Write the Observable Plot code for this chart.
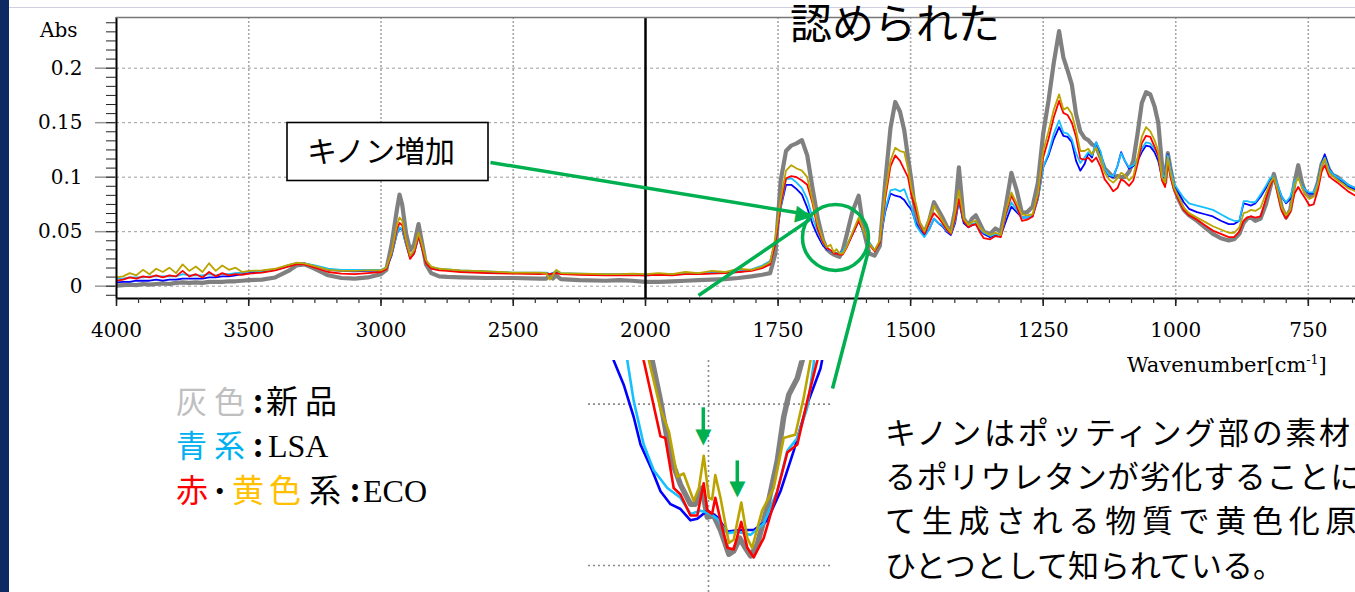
<!DOCTYPE html>
<html><head><meta charset="utf-8">
<script src="https://cdn.jsdelivr.net/npm/d3@7"></script>
<script src="https://cdn.jsdelivr.net/npm/@observablehq/plot@0.6"></script>
<style>
html,body{margin:0;padding:0;background:#fff;}
body{width:1355px;height:592px;overflow:hidden;position:relative;}
.layer{position:absolute;left:0;top:0;}
#strip{position:absolute;left:0;top:0;width:9px;height:592px;background:#0d2a62;}
#topline{position:absolute;left:9px;width:1346px;top:7px;height:1px;background:#cfd0e2;}
</style></head><body>
<div id="topline"></div>
<div id="chart" class="layer"></div>
<div id="inset" style="position:absolute;left:588px;top:360px;"></div>
<svg id="overlay" class="layer" width="1355" height="592" style="pointer-events:none"></svg>
<div id="strip"></div>
<script>
// ---------------- data (Abs values stored in milli-Abs) ----------------
const wavenumber = [
 4000,3975,3950,3925,3900,3875,3850,3825,3800,3775,3750,3725,3700,3675,3650,3625,3600,3575,3550,3525,
 3500,3450,3400,3350,3320,3290,3250,3200,3150,3100,3050,3000,
 2980,2960,2940,2930,2920,2905,2890,2875,2858,2845,2830,2810,2780,2750,2700,2600,2500,2400,
 2375,2362,2350,2338,2320,2250,2150,2100,2050,2000,
 1975,1950,1925,1900,1875,1850,1825,1800,1780,1765,
 1755,1745,1735,1725,1715,1705,1695,1685,1675,1665,
 1658,1651,1645,1640,1634,1628,1620,1610,1598,1588,
 1578,1568,1558,1548,1538,1529,1520,1512,1505,1498,
 1490,1482,1474,1465,1456,1448,1440,1432,1424,1416,
 1409,1400,1391,1384,1377,1370,1362,1350,1340,1330,
 1320,1310,1300,1290,1280,1270,1260,1250,1240,1230,
 1220,1212,1204,1196,1188,1180,1172,1165,1158,1150,
 1142,1134,1126,1118,1110,1103,1096,1088,1080,1072,
 1064,1056,1048,1040,1033,1026,1020,1015,1010,1003,
 995,985,975,960,945,930,915,900,890,880,
 872,865,858,850,840,830,822,815,808,800,
 792,784,776,769,762,755,748,740,732,725,
 719,711,704,695,685,675,661
];
const grayNew = [
 0.5,1,1.5,1,2,1.5,2,2.5,2,3,3.5,3,3.5,3,4,4,4,4.5,4.5,5,
 5.5,6,8,14,19,20,16,10,7.5,7,8,11,
 15,38,70,84,75,48,33,38,57,40,20,12,9,8.5,8,7.5,7.5,7,
 7,10,7,10,6.5,5.5,5,5.5,5,4,
 4,4.5,5,5.5,6,6.5,7.5,9,10.5,12,
 30,97,124,129,131,134,120,90,62,42,
 34,31,29,28,27,33,48,68,83,50,
 30,28,37,95,145,169,160,143,118,95,
 62,56,49,60,77,70,63,55,50,70,
 109,62,56,62,65,58,50,48,53,50,
 75,104,88,67,68,73,95,140,170,205,
 234,210,198,185,158,142,136,134,130,128,
 118,108,104,100,101,100,100,105,115,140,
 168,178,176,165,150,112,95,122,108,91,
 80,70,65,60,54,48,44,42,43,48,
 58,62,63,60,62,75,90,103,90,72,
 63,70,95,111,95,85,82,84,95,112,
 118,107,102,100,96,92,89
];
const blueLSA = [
 3.5,4,4,5,5,5,6,5,6,6,7,7,7,7,8,8,9,9,10,11,
 12,13,15,19,21,21,18.5,15,14,13.5,14,14,
 16,28,48,53,52,38,26,30,45,35,22,17,15.5,15,14,13,12,12,
 12,11,12,13,11.5,11,10.5,10.5,10.5,10,
 10.5,11,11,11.5,12,12.5,13,15,18,22,
 40,72,93,93,89,84,72,57,46,37,
 34,32,31,30,30,32,37,47,60,49,
 40,33,40,68,85,83,82,79,74,70,
 58,51,47,52,62,58,55,50,47,58,
 78,58,54,56,57,52,48,45,47,46,
 60,73,68,63,63,64,80,109,120,135,
 146,138,137,132,115,106,112,122,118,132,
 122,108,101,100,110,123,115,108,110,115,
 123,129,128,123,115,100,100,121,108,93,
 86,77,71,68,66,64,60,57,57,60,
 76,75,74,76,82,90,98,100,92,82,
 76,80,95,100,92,88,85,85,95,112,
 121,108,103,100,96,92,89
];
const cyanLSA = [
 7,7,8,8,8,9,9,9,9,9,11,10,10,10,11,10,11,11,12,12.5,
 13.5,14,15.5,19,21,21,19,16,15,15,15,15,
 17,29,48,54,52,38,27,31,45,35,22,17.5,16,15.5,14.5,13.5,12.5,12.5,
 12.5,11,12,14,12,11.5,11,11,11,10.5,
 11,11,11.5,12,12,13,13.5,15.5,19,23,
 42,72,98,99,95,90,80,63,50,39,
 35,32,31,30,30,32,38,48,62,48,
 40,33,40,70,88,89,87,89,80,72,
 56,50,45,52,62,58,56,51,48,60,
 80,60,55,57,58,53,49,46,48,46,
 65,77,70,63,63,65,80,109,122,140,
 152,141,140,135,122,113,118,123,120,132,
 124,108,102,101,110,122,115,109,111,117,
 126,132,131,126,120,102,100,120,108,94,
 88,81,76,74,72,70,66,62,60,60,
 78,78,77,77,84,92,99,101,93,82,
 77,82,96,100,92,88,86,86,95,112,
 118,107,103,100,97,93,90
];
const redECO = [
 5,6,8,7,9,8,10,8,10,9,14,9,11,8,13,9,12,10,11,10.5,
 11.5,12.5,14.5,18,20,20,17,13,11.5,11,12,13,
 15.5,30,52,58,56,40,25,30,46,35,21,16,14.5,14,13,12,11.5,11,
 11.5,11,11.5,12,11,10.5,10,10,10,10,
 10.5,10,11,11,11.5,12,13,14,16.5,20,
 40,75,99,101,100,97,93,76,52,40,
 35,33,30,30,29,29,36,47,60,50,
 38,32,40,80,110,120,115,107,100,82,
 70,56,48,58,67,63,58,52,48,62,
 80,60,54,56,57,50,44,43,46,45,
 67,83,73,60,61,64,82,118,135,155,
 170,159,157,150,137,117,116,118,114,118,
 110,98,93,87,90,98,96,92,97,112,
 131,138,137,128,120,97,91,115,100,88,
 80,70,65,61,56,51,48,45,45,50,
 60,63,64,63,64,80,92,100,85,69,
 62,68,85,91,85,80,74,75,88,105,
 111,101,98,95,91,87,83
];
const yellowECO = [
 8,9,12,10,15,11,16,13,17,12,20,14,18,13,21,14,19,15,17,13,
 14,14.5,16,19.5,21.5,21,18.5,15,14,14,14.5,14.5,
 17,31,56,63,60,42,28,33,49,38,24,18,16,15.5,14.5,13.5,12.5,12.5,
 12,6,10,15,12,11.5,11,11,11.5,11,
 12,11,13,12,14,13,16,15,18,22,
 45,80,106,111,108,106,100,78,56,42,
 36,38,31,34,30,30,37,49,63,50,
 39,33,42,85,115,127,124,123,108,88,
 76,58,50,62,74,67,60,54,49,68,
 88,62,56,59,60,54,50,47,49,47,
 70,86,76,66,65,66,85,124,142,162,
 176,162,164,158,143,124,124,126,121,127,
 118,104,98,95,99,104,102,97,101,118,
 137,146,142,134,124,100,95,118,104,90,
 82,72,67,63,59,55,52,49,49,54,
 67,68,70,69,72,85,95,100,88,72,
 65,70,92,100,90,84,80,82,93,110,
 117,104,101,97,94,90,87
];
// zoomed inset (1680–1620 cm-1), [wavenumber, mAbs]
const insetGray = [[1665.5,39.5],[1664.1,37.7],[1662,35.2],[1659.5,31.7],[1657,30.0],[1654.5,28.8],[1653.3,28.8],[1651.6,29.8],[1650.3,28.0],[1648.7,28.1],[1647,27.2],[1644.9,25.7],[1643.7,25.9],[1642.2,26.7],[1640.8,26.1],[1639.5,25.6],[1637.8,26.3],[1635.3,28.6],[1632.8,31.5],[1631.2,34.2],[1629.9,35.6],[1627.8,36.6],[1626.6,37.7],[1625.5,39.5]];
const insetYellow = [[1665.5,39.5],[1664.9,37.7],[1662,34.7],[1659.9,33.3],[1657.8,30.5],[1656.2,30.7],[1653.7,29.0],[1652.4,29.8],[1651.2,31.8],[1649.9,29.2],[1649.1,29.1],[1648.3,30.6],[1647,29.2],[1644.9,26.4],[1643.7,26.6],[1641.8,28.9],[1640.3,26.7],[1639.1,26.1],[1636.6,28.4],[1633.7,29.8],[1631.2,32.9],[1629.9,33.0],[1628.3,33.1],[1626.2,35.4],[1624.5,37.7],[1623.5,39.5]];
const insetRed = [[1667,39.5],[1666.2,37.7],[1664.5,35.8],[1662,33.0],[1660.8,32.9],[1658.7,29.8],[1657,29.4],[1654.5,28.1],[1652.8,28.1],[1651.2,30.1],[1650.3,28.4],[1649.1,28.2],[1648.3,29.2],[1647,27.8],[1645.3,26.1],[1643.7,26.0],[1641.8,27.7],[1640.3,26.1],[1638.7,25.5],[1636.2,26.7],[1632.8,29.6],[1630.3,32.0],[1627.8,32.5],[1625.3,35.2],[1622.8,37.7],[1622,39.5]];
const insetCyan = [[1671,39.5],[1670.3,37.7],[1668.7,35.2],[1666.2,32.5],[1663.7,30.9],[1660.3,29.8],[1657,29.2],[1654.5,28.2],[1652,28.4],[1649.5,28.2],[1647.8,27.9],[1645.3,27.0],[1642.8,27.1],[1639.5,26.9],[1636.2,27.6],[1632.8,29.6],[1630.3,32.1],[1627.8,32.9],[1625.3,34.8],[1623.7,37.5],[1623.2,39.5]];
const insetBlue = [[1674.5,39.5],[1673.7,37.7],[1671.2,36.2],[1668.7,34.2],[1667,32.5],[1664.1,30.9],[1662,29.6],[1659.5,28.8],[1657,28.5],[1654.5,27.8],[1652.8,27.9],[1650.3,28.4],[1647.8,28.0],[1645.3,27.1],[1642,27.2],[1638.7,27.2],[1635.3,27.8],[1632,29.6],[1628.7,32.1],[1625.3,35.0],[1622,37.2],[1621,38.5]];

// axis ticks
const xTickValues = [4000,3500,3000,2500,2000,1750,1500,1250,1000,750];
const xGridValues = [3500,3000,2500,1750,1500,1250,1000,750];
const yTickValues = [0,50,100,150,200];
// annotations in data coordinates
const calloutLinks = [
  {x1:2586,y1:113.5,x2:1690,y2:65.5},
  {x1:1900,y1:-8.5,x2:1689,y2:61.5},
  {x1:1579.4,y1:32.8,x2:1647.3,y2:-93.9}
];
const calloutHead = [{x:1700.9,y:66.0,angle:9.4}];
const calloutCircle = [{x:1641.7,y:44.7}];
const insetArrowShafts = [{x:1651.3,y1:34.77,y2:33.3},{x:1642.8,y1:31.48,y2:30.0}];
const insetArrowHeads = [{x:1651.3,y:33.0},{x:1642.8,y:29.78}];

// ---------------- build ----------------
const series = [
  {key:"新品", values:grayNew, inset:insetGray, color:"#808080", w:4.2, wi:5.5},
  {key:"LSA青", values:blueLSA, inset:insetBlue, color:"#0000ff", w:1.8, wi:2.6},
  {key:"LSA水", values:cyanLSA, inset:insetCyan, color:"#14c0ff", w:1.8, wi:2.6},
  {key:"ECO赤", values:redECO, inset:insetRed, color:"#ff0000", w:1.8, wi:2.6},
  {key:"ECO黄", values:yellowECO, inset:insetYellow, color:"#bca400", w:1.8, wi:2.6}
];
for (const s of series) if (s.values.length !== wavenumber.length) throw new Error(s.key + " length " + s.values.length + " vs " + wavenumber.length);

const GREEN = "#00b050";
const X_DOMAIN = [4000, 2000, 661];
const X_RANGE = [116, 645, 1355];
const Y_DOMAIN = [-11.3, 246.5];
const yMinor = d3.range(-1, 30).map(k => k * 50 / 6);
const xMinor = d3.range(0, 25).map(k => 4000 - k * 500 / 6).concat(d3.range(1, 33).map(k => 2000 - k * 250 / 6));

const lineMarks = series.map(s => Plot.line(
  wavenumber.map((w, i) => ({wn: w, abs: s.values[i]})),
  {x: "wn", y: "abs", stroke: s.color, strokeWidth: s.w, strokeLinejoin: "round", clip: true}
));

const chart = Plot.plot({
  width: 1355, height: 592,
  marginLeft: 116, marginRight: 0, marginTop: 17, marginBottom: 294,
  x: {type: "linear", domain: X_DOMAIN, range: X_RANGE},
  y: {domain: Y_DOMAIN},
  style: {fontFamily: "'DejaVu Serif', serif", fontSize: "20px", color: "black", background: "transparent", overflow: "visible"},
  marks: [
    Plot.ruleY(yTickValues, {stroke: "#9c9c9c", strokeDasharray: "3,3", strokeWidth: 1}),
    Plot.ruleX(xGridValues, {stroke: "#a8a8a8", strokeDasharray: "2,2", strokeWidth: 1.6}),
    ...lineMarks,
    Plot.ruleX([2000], {stroke: "#000", strokeWidth: 2.5}),
    Plot.ruleX([X_DOMAIN[0]], {stroke: "#000", strokeWidth: 2}),
    Plot.ruleY([Y_DOMAIN[1]], {stroke: "#777", strokeWidth: 1.5}),
    Plot.ruleY([Y_DOMAIN[0]], {stroke: "#000", strokeWidth: 2}),
    Plot.axisY({ticks: yTickValues, tickSize: 21, tickPadding: 13, tickFormat: d => String(d / 1000), stroke: "#999", strokeWidth: 1.5, label: null}),
    Plot.axisY({ticks: yMinor, tickSize: 10, tickFormat: () => "", stroke: "#222", strokeWidth: 1, label: null}),
    Plot.axisX({ticks: xMinor, tickSize: 5, tickFormat: () => "", stroke: "#333", strokeWidth: 1.2, label: null}),
    Plot.axisX({ticks: xTickValues, tickSize: 8, tickPadding: 16, tickFormat: d => String(d), stroke: "#222", strokeWidth: 1.6, label: null}),
    Plot.link(calloutLinks, {x1: "x1", y1: "y1", x2: "x2", y2: "y2", stroke: GREEN, strokeWidth: 3.5}),
    Plot.text(calloutHead, {x: "x", y: "y", text: () => "▶", rotate: d => d.angle, fill: GREEN, fontSize: 22, fontFamily: "DejaVu Sans"}),
    Plot.dot(calloutCircle, {x: "x", y: "y", r: 33, stroke: GREEN, strokeWidth: 3.5, fill: "none"})
  ]
});
document.getElementById("chart").append(chart);

const insetPlot = Plot.plot({
  width: 242, height: 232, marginLeft: 0, marginRight: 0, marginTop: 0, marginBottom: 0,
  x: {domain: [1680, 1619.5], range: [0, 242], axis: null},
  y: {domain: [23.33, 37.7], axis: null},
  style: {background: "transparent", overflow: "visible"},
  marks: [
    Plot.ruleY([25, 35], {stroke: "#8a8a8a", strokeDasharray: "2,3", strokeWidth: 1.6}),
    Plot.ruleX([1650], {stroke: "#8a8a8a", strokeDasharray: "2,3", strokeWidth: 1.6}),
    ...series.map(s => Plot.line(s.inset, {x: d => d[0], y: d => d[1], stroke: s.color, strokeWidth: s.wi, strokeLinejoin: "round", clip: true})),
    Plot.ruleX(insetArrowShafts, {x: "x", y1: "y1", y2: "y2", stroke: GREEN, strokeWidth: 3.5}),
    Plot.text(insetArrowHeads, {x: "x", y: "y", text: () => "▼", fill: GREEN, fontSize: 21, fontFamily: "DejaVu Sans"})
  ]
});
document.getElementById("inset").append(insetPlot);

// ---------------- texts ----------------
const NS = "http://www.w3.org/2000/svg";
const ov = document.getElementById("overlay");
const JP = "'Noto Sans CJK JP', sans-serif";
const SERIF = "'Liberation Serif', serif";
function txt(x, y, parts, size, family, ls) {
  const t = document.createElementNS(NS, "text");
  t.setAttribute("x", x); t.setAttribute("y", y);
  t.setAttribute("font-size", size);
  t.setAttribute("font-family", family);
  if (ls) t.setAttribute("letter-spacing", ls);
  for (const p of parts) {
    const s = document.createElementNS(NS, "tspan");
    s.textContent = p[0];
    s.setAttribute("fill", p[1] || "#000");
    if (p[2] != null) { s.setAttribute("font-size", p[2]); s.setAttribute("dy", p[3]); }
    t.append(s);
  }
  ov.append(t);
  return t;
}
// legend line: parts [text, color, x, family, fontSize, weight]
function legendLine(y, parts) {
  const t = document.createElementNS(NS, "text");
  t.setAttribute("y", y);
  for (const [s, c, x, fam, fs, wt] of parts) {
    const sp = document.createElementNS(NS, "tspan");
    sp.textContent = s;
    sp.setAttribute("x", x); sp.setAttribute("fill", c);
    sp.setAttribute("font-family", fam); sp.setAttribute("font-size", fs);
    if (wt) sp.setAttribute("font-weight", wt);
    t.append(sp);
  }
  ov.append(t);
}
txt(40, 37, [["Abs"]], 20, "'DejaVu Serif', serif");
txt(1127, 372, [["Wavenumber[cm"], ["-1", "#000", 12.5, -8], ["]", "#000", 21, 8]], 21, "'DejaVu Serif', serif");
txt(790, 38.5, [["認められた"]], 42, JP);
const box = document.createElementNS(NS, "rect");
box.setAttribute("x", 287); box.setAttribute("y", 122.5); box.setAttribute("width", 201); box.setAttribute("height", 58);
box.setAttribute("fill", "#fff"); box.setAttribute("stroke", "#000"); box.setAttribute("stroke-width", 1.6);
ov.append(box);
txt(307, 161.5, [["キノン増加"]], 30, JP);
legendLine(413, [["灰", "#bfbfbf", 176, JP, 31], ["色", "#bfbfbf", 214, JP, 31], [":", "#000", 253, JP, 31, "bold"], ["新", "#000", 266, JP, 32], ["品", "#000", 305, JP, 32]]);
legendLine(457, [["青", "#00b0f0", 176, JP, 31], ["系", "#00b0f0", 214, JP, 31], [":", "#000", 253, JP, 31, "bold"], ["LSA", "#000", 268, SERIF, 32]]);
legendLine(502, [["赤", "#ff0000", 176, JP, 32], ["･", "#000", 212, JP, 31, "bold"], ["黄", "#ffc000", 232, JP, 32], ["色", "#ffc000", 269, JP, 32], ["系", "#000", 309, JP, 32], [":", "#000", 350, JP, 31, "bold"], ["ECO", "#000", 363, SERIF, 32]]);
txt(885, 444, [["キノンはポッティング部の素材であ"]], 31, JP, 2.7);
txt(885, 488, [["るポリウレタンが劣化することによっ"]], 31, JP, 0.8);
txt(885, 532, [["て生成される物質で黄色化原因の"]], 31, JP, 5.7);
txt(885, 577, [["ひとつとして知られている。"]], 31, JP, 0);
</script>
</body></html>
